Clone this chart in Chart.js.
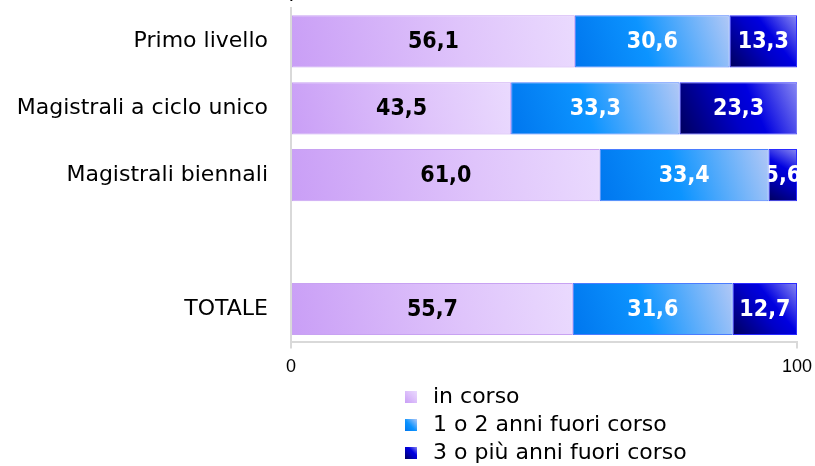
<!DOCTYPE html>
<html lang="it">
<head>
<meta charset="utf-8">
<script src="https://cdn.jsdelivr.net/npm/chart.js@4/dist/chart.umd.min.js"></script>
<style>
  html, body { margin: 0; padding: 0; background: #fff; overflow: hidden; }
  #wrap { position: relative; width: 815px; height: 466px; }
  #titolo { position: absolute; left: 0; width: 630px; top: -22px; text-align: center;
            font: 21px 'DejaVu Sans', sans-serif; color: #000; white-space: nowrap; }
  #legenda { position: absolute; left: 405px; top: 382px; font: 22px 'DejaVu Sans', sans-serif; color: #000; }
  #legenda div { height: 28px; line-height: 28px; white-space: nowrap; }
  #legenda span.q { display: inline-block; width: 12px; height: 12px; margin-right: 16px; vertical-align: 0px; }
</style>
</head>
<body>
<div id="wrap">
  <div id="titolo">(valori percentuali)</div>
  <canvas id="chart" width="815" height="466"></canvas>
  <div id="legenda"></div>
</div>
<script>
/* barre orizzontali in pila — regolarità negli studi */

const categorie    = ['Primo livello', 'Magistrali a ciclo unico', 'Magistrali biennali', '', 'TOTALE'];
const inCorso      = [56.1, 43.5, 61.0, null, 55.7];
const fuoriCorso12 = [30.6, 33.3, 33.4, null, 31.6];
const fuoriCorso3  = [13.3, 23.3, 5.6, null, 12.7];
const tickAsse     = [0, 100];
const nomiSerie    = ['in corso', '1 o 2 anni fuori corso', '3 o più anni fuori corso'];

const FONT = "'DejaVu Sans', sans-serif";
const BAR_PCT = 0.78;

// colori sfumati (dal basso a sinistra verso l'alto a destra)
const SFUMATURE = [
  [[0, '#c99ef6'], [0.6, '#dfc4fb'], [1, '#eadafe']],
  [[0, '#0076ee'], [0.45, '#0c94ff'], [1, '#b2c8f6']],
  [[0, '#00005c'], [0.45, '#0000c8'], [0.62, '#0000e0'], [1, '#8a8af2']],
];
const BORDI = ['#c8a2f2', '#4a7cff', '#2a2aff'];
const COLORI_TESTO = ['#000000', '#ffffff', '#ffffff'];

function limitiBarra(ctx) {
  const chart = ctx.chart;
  const x = chart.scales.x, y = chart.scales.y;
  let inizio = 0;
  for (let d = 0; d < ctx.datasetIndex; d++) inizio += chart.data.datasets[d].data[ctx.dataIndex] || 0;
  const v = ctx.raw || 0;
  const yc = y.getPixelForValue(ctx.dataIndex);
  const h = (y.getPixelForValue(1) - y.getPixelForValue(0)) * BAR_PCT;
  return { x0: x.getPixelForValue(inizio), x1: x.getPixelForValue(inizio + v), y0: yc - h / 2, y1: yc + h / 2 };
}

function sfondo(i) {
  return ctx => {
    if (ctx.type !== 'data' || !ctx.chart.chartArea || !ctx.chart.scales.x) return SFUMATURE[i][1][1];
    const b = limitiBarra(ctx);
    const g = ctx.chart.ctx.createLinearGradient(b.x0, b.y1, b.x1, b.y0);
    SFUMATURE[i].forEach(([o, c]) => g.addColorStop(o, c));
    return g;
  };
}

// etichette dei valori, ritagliate dentro la barra
const etichette = {
  id: 'etichette',
  afterDatasetsDraw(chart) {
    const ctx = chart.ctx;
    chart.data.datasets.forEach((ds, i) => {
      chart.getDatasetMeta(i).data.forEach((el, j) => {
        const v = ds.data[j];
        if (v == null) return;
        const { x, y, base, height } = el.getProps(['x', 'y', 'base', 'height'], true);
        ctx.save();
        ctx.beginPath();
        ctx.rect(base, y - height / 2, x - base, height);
        ctx.clip();
        ctx.font = "bold 23px 'DejaVu Sans Condensed', 'DejaVu Sans', sans-serif";
        ctx.fillStyle = COLORI_TESTO[i];
        ctx.textAlign = 'center';
        ctx.textBaseline = 'middle';
        ctx.fillText(v.toFixed(1).replace('.', ','), (x + base) / 2, y + 1);
        ctx.restore();
      });
    });
  }
};

const serie = [inCorso, fuoriCorso12, fuoriCorso3];

new Chart(document.getElementById('chart'), {
  type: 'bar',
  data: {
    labels: categorie,
    datasets: serie.map((d, i) => ({
      label: nomiSerie[i],
      data: d,
      backgroundColor: sfondo(i),
      borderColor: BORDI[i],
      borderWidth: 1,
      borderSkipped: false,
      barPercentage: BAR_PCT,
      categoryPercentage: 1,
    }))
  },
  options: {
    indexAxis: 'y',
    responsive: false,
    animation: false,
    events: [],
    layout: { padding: { top: 8, left: 0, right: 0, bottom: 80 } },
    plugins: { legend: { display: false }, tooltip: { enabled: false } },
    scales: {
      x: {
        stacked: true, min: 0, max: 100,
        afterBuildTicks: s => { s.ticks = tickAsse.map(v => ({ value: v })); },
        afterFit: s => { s.paddingRight = 18; },
        grid: { drawOnChartArea: false, color: '#d9d9d9', lineWidth: 2, tickLength: 6 },
        border: { display: true, color: '#d9d9d9', width: 2 },
        ticks: { color: '#000', font: { family: "'Liberation Sans', Arial, sans-serif", size: 18 }, padding: 8, maxRotation: 0 }
      },
      y: {
        stacked: true,
        grid: { display: false, drawTicks: false },
        border: { display: true, color: '#d9d9d9', width: 2 },
        ticks: { color: '#000', font: { family: FONT, size: 22 }, padding: 23 },
        afterFit: s => { s.paddingTop = 0; s.paddingBottom = 0; s.width = 291; }
      }
    }
  },
  plugins: [etichette]
});

// legenda verticale
const leg = document.getElementById('legenda');
nomiSerie.forEach((n, i) => {
  const r = document.createElement('div');
  const st = SFUMATURE[i].map(([o, c]) => `${c} ${o * 100}%`).join(', ');
  r.innerHTML = `<span class="q" style="background:linear-gradient(45deg, ${st})"></span>${n}`;
  leg.appendChild(r);
});
</script>
</body>
</html>
